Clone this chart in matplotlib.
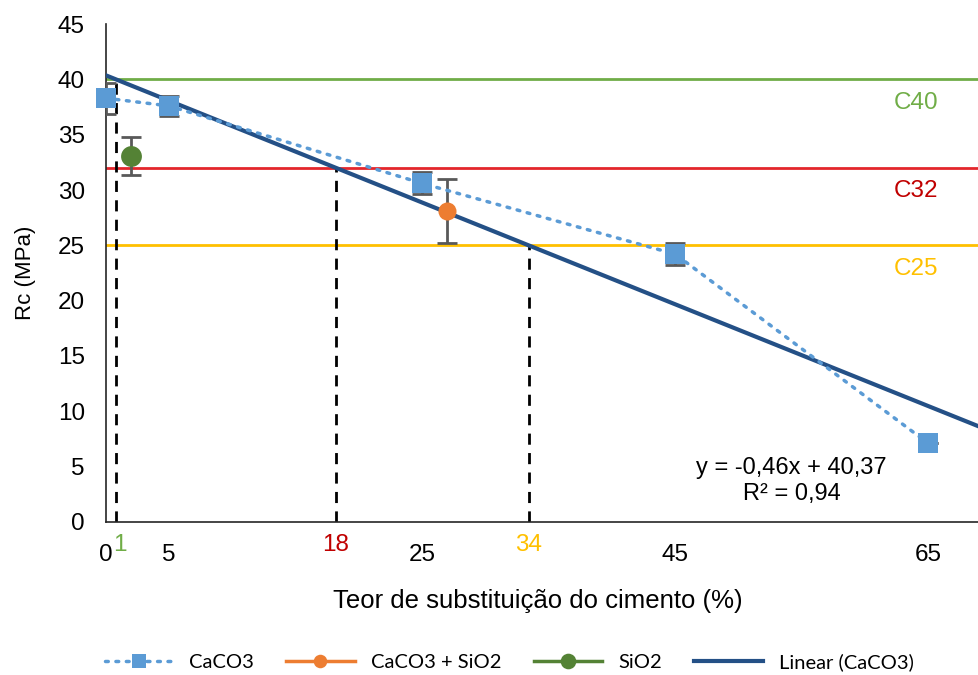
import matplotlib.pyplot as plt
import numpy as np

plt.rcParams['font.family'] = ['Liberation Sans', 'DejaVu Sans']

# dados
caco3_x = [0, 5, 25, 45, 65]
caco3_y = [38.3, 37.6, 30.6, 24.2, 7.1]
caco3_err = [1.4, 0.9, 1.0, 1.0, 0.0]

mix_x = [27]
mix_y = [28.1]
mix_err = [2.9]

sio2_x = [2]
sio2_y = [33.1]
sio2_err = [1.7]

# regressão linear (CaCO3)
slope = -0.46
intercept = 40.37

# classes de resistência
classes = ['C40', 'C32', 'C25']
class_values = [40, 32, 25]
class_colors = ['#70AD47', '#E3262B', '#FFC000']
class_text_colors = ['#70AD47', '#C00000', '#FFC000']
cut_labels = ['1', '18', '34']

x_ticks = [0, 5, 25, 45, 65]
y_ticks = list(range(0, 50, 5))

fig = plt.figure(figsize=(9.79, 6.75), dpi=100)
ax = fig.add_axes([0.108, 0.2267, 0.892, 0.7377])

x_max = 69
ax.set_xlim(0, x_max)
ax.set_ylim(0, 45)

# linhas horizontais das classes
for val, col in zip(class_values, class_colors):
    ax.axhline(val, color=col, lw=2, zorder=1)

# linhas verticais tracejadas (interseção da reta com cada classe)
cut_x = [(val - intercept) / slope for val in class_values]
for xc, val in zip(cut_x, class_values):
    ax.plot([xc, xc], [0, val], color='black', lw=2, linestyle=(0, (4, 3)), zorder=2)

# reta de tendência
xl = np.array([0, x_max])
p_lin, = ax.plot(xl, slope * xl + intercept, color='#245086', lw=3, zorder=4)

# barras de erro
ax.errorbar(caco3_x, caco3_y, yerr=caco3_err, fmt='none', ecolor='#595959', elinewidth=2, capsize=7, capthick=2, zorder=3)
ax.errorbar(mix_x, mix_y, yerr=mix_err, fmt='none', ecolor='#595959', elinewidth=2, capsize=7, capthick=2, zorder=3)
ax.errorbar(sio2_x, sio2_y, yerr=sio2_err, fmt='none', ecolor='#595959', elinewidth=2, capsize=7, capthick=2, zorder=3)

p1, = ax.plot(caco3_x, caco3_y, color='#5B9BD5', lw=2.5, linestyle=(0, (0.8, 2.2)),
              dash_capstyle='round', marker='s', markersize=14, markeredgewidth=0, zorder=5,
              clip_on=False)
p2, = ax.plot(mix_x, mix_y, color='#ED7D31', lw=2.5, marker='o', markersize=13, markeredgewidth=0, zorder=5)
p3, = ax.plot(sio2_x, sio2_y, color='#548235', lw=2.5, marker='o', markersize=15, markeredgewidth=0, zorder=5)

# textos das classes
for name, val, col in zip(classes, class_values, class_text_colors):
    ax.text(64, val - 2.1, name, color=col, fontsize=17.5, ha='center', va='center')

ax.text(54.2, 4.9, 'y = -0,46x + 40,37', fontsize=17, ha='center', va='center')
ax.text(54.2, 2.5, 'R² = 0,94', fontsize=17, ha='center', va='center')

# eixos
for s in ['top', 'right']:
    ax.spines[s].set_visible(False)
for s in ['left', 'bottom']:
    ax.spines[s].set_color('#262626')
    ax.spines[s].set_linewidth(1.2)

ax.set_xticks(x_ticks)
ax.set_yticks(y_ticks)
ax.tick_params(axis='both', length=0, labelsize=17.5)
ax.tick_params(axis='x', pad=16)
ax.tick_params(axis='y', pad=15)

for i, (xc, lab, col) in enumerate(zip(cut_x, cut_labels, class_text_colors)):
    dx = 3 if i == 0 else 0
    ax.annotate(lab, xy=(xc, 0), xycoords=('data', 'axes fraction'),
                xytext=(dx, -9), textcoords='offset points',
                ha='center', va='top', fontsize=17.5, color=col)

ax.set_xlabel('Teor de substituição do cimento (%)', fontsize=18.5)
ax.xaxis.set_label_coords(0.495, -0.135)
ax.set_ylabel('Rc (MPa)', fontsize=16)
ax.yaxis.set_label_coords(-0.08, 0.5)

fig.legend([p1, p2, p3, p_lin], ['CaCO3', 'CaCO3 + SiO2', 'SiO2', 'Linear (CaCO3)'],
           loc='center', bbox_to_anchor=(0.52, 0.019), ncol=4, frameon=False,
           prop={'family': 'Lato', 'size': 14.5}, handlelength=3.4, columnspacing=1.6,
           markerscale=0.75)

plt.savefig('out.png', dpi=100)
